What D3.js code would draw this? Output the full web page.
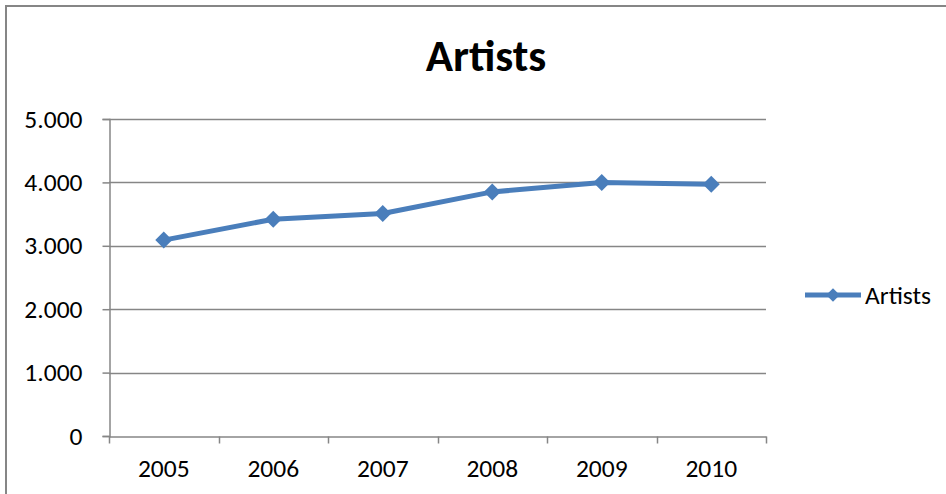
<!DOCTYPE html>
<html>
<head>
<meta charset="utf-8">
<script src="https://cdn.jsdelivr.net/npm/d3@7"></script>
<style>
  html, body { margin: 0; padding: 0; background: #fff; }
  svg { display: block; }
  text { font-family: Carlito, Lato, "Open Sans", sans-serif; fill: #000; }
</style>
</head>
<body>
<svg id="chart" width="946" height="494"></svg>
<script>
// Number of artists per year
const years = ["2005", "2006", "2007", "2008", "2009", "2010"];
const artists = [3090, 3420, 3510, 3850, 4000, 3970];
const yTicks = [0, 1000, 2000, 3000, 4000, 5000];
const seriesName = "Artists";
const chartTitle = "Artists";

const W = 946, H = 494;
const svg = d3.select("#chart");
const blue = "#4a7ebb";
const axisGrey = "#868686";
const fontStack = "Carlito, Lato, 'Open Sans', sans-serif";
const labelSize = 25.5;

// outer chart frame
svg.append("rect")
  .attr("x", 6).attr("y", 6)
  .attr("width", W + 10).attr("height", H + 10)
  .attr("fill", "none").attr("stroke", axisGrey).attr("stroke-width", 2);

const plot = { left: 109, right: 766, top: 119, bottom: 436 };

const x = d3.scaleBand().domain(years).range([plot.left, plot.right]).padding(0);
const y = d3.scaleLinear().domain([0, 5000]).range([plot.bottom, plot.top]);

// horizontal gridlines
svg.append("g").selectAll("line").data(yTicks.filter(d => d > 0)).join("line")
  .attr("x1", plot.left).attr("x2", plot.right)
  .attr("y1", d => Math.round(y(d)) + 0.5).attr("y2", d => Math.round(y(d)) + 0.5)
  .attr("stroke", axisGrey).attr("stroke-width", 1.5);

// y axis
const fmt = d => d === 0 ? "0" : d3.format(",")(d).replace(",", ".");
const yAxis = svg.append("g")
  .attr("transform", `translate(${plot.left + 0.5},0)`)
  .call(d3.axisLeft(y).tickValues(yTicks).tickFormat(fmt).tickSize(7).tickPadding(20));
yAxis.select(".domain").attr("stroke", axisGrey).attr("stroke-width", 1.5);
yAxis.selectAll(".tick line").attr("stroke", axisGrey).attr("stroke-width", 1.5);
yAxis.selectAll(".tick text").attr("font-size", labelSize).attr("fill", "#000")
  .style("font-family", fontStack);

// x axis with ticks at category boundaries
const xAxis = svg.append("g")
  .attr("transform", `translate(0,${plot.bottom + 0.5})`)
  .call(d3.axisBottom(x).tickSize(0).tickPadding(22));
xAxis.select(".domain").attr("stroke", axisGrey).attr("stroke-width", 1.5);
xAxis.selectAll(".tick text").attr("font-size", labelSize).attr("fill", "#000")
  .style("font-family", fontStack);
const bounds = years.map(d => x(d)).concat([x(years[years.length - 1]) + x.bandwidth()]);
xAxis.append("g").selectAll("line").data(bounds).join("line")
  .attr("x1", d => Math.round(d) + 0.5).attr("x2", d => Math.round(d) + 0.5)
  .attr("y1", 0).attr("y2", 7)
  .attr("stroke", axisGrey).attr("stroke-width", 1.5);

// series line
const cx = d => x(d) + x.bandwidth() / 2;
const line = d3.line().x((d, i) => cx(years[i])).y(d => y(d));
svg.append("path").datum(artists)
  .attr("d", line).attr("fill", "none")
  .attr("stroke", blue).attr("stroke-width", 5).attr("stroke-linejoin", "round");

// diamond markers
const diamond = d3.symbol().type(d3.symbolDiamond2).size(185);
svg.append("g").selectAll("path").data(artists).join("path")
  .attr("transform", (d, i) => `translate(${cx(years[i])},${y(d)})`)
  .attr("d", diamond).attr("fill", blue);

// title
svg.append("text")
  .attr("x", 486).attr("y", 71)
  .attr("text-anchor", "middle")
  .attr("font-size", 45).attr("font-weight", "bold")
  .text(chartTitle);

// legend
const lg = svg.append("g").attr("transform", "translate(805,295)");
lg.append("line").attr("x1", 0).attr("x2", 56).attr("y1", 0).attr("y2", 0)
  .attr("stroke", blue).attr("stroke-width", 5);
lg.append("path").attr("transform", "translate(28,0)")
  .attr("d", d3.symbol().type(d3.symbolDiamond2).size(115)).attr("fill", blue);
lg.append("text").attr("x", 60).attr("y", 9)
  .attr("font-size", labelSize).text(seriesName);
</script>
</body>
</html>
